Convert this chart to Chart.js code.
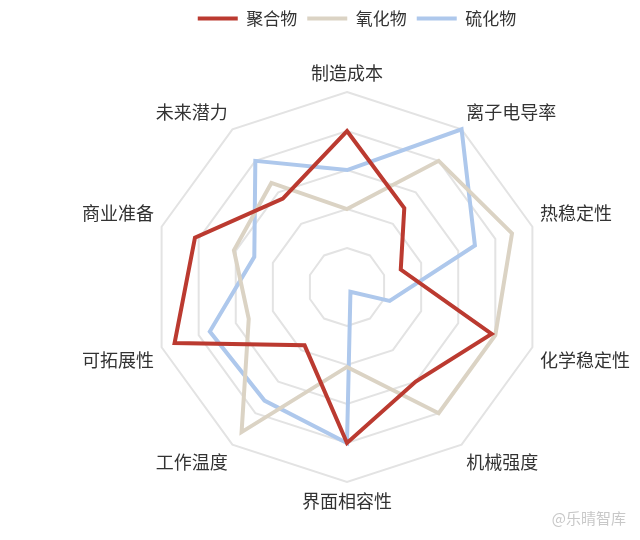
<!DOCTYPE html>
<html>
<head>
<meta charset="utf-8">
<script src="https://cdn.jsdelivr.net/npm/chart.js@4/dist/chart.umd.min.js"></script>
<style>
  html, body { margin: 0; padding: 0; background: #fff; }
  #wrap { position: relative; width: 640px; height: 540px; }
  #mark { position: absolute; right: 14px; bottom: 12px; color: #c8c8c8; font: 15px "Noto Sans CJK SC", sans-serif; }
</style>
</head>
<body>
<div id="wrap">
  <canvas id="chart" width="640" height="540"></canvas>
  <div id="mark">@乐晴智库</div>
</div>
<script>
const labels = ["制造成本", "离子电导率", "热稳定性", "化学稳定性", "机械强度", "界面相容性", "工作温度", "可拓展性", "商业准备", "未来潜力"];
const polymer = [4.0, 2.5, 1.45, 3.9, 3.0, 4.0, 1.85, 4.65, 4.1, 2.8];
const oxide = [2.0, 4.0, 4.45, 4.0, 4.0, 2.05, 4.6, 2.65, 3.05, 3.3];
const sulfide = [3.0, 5.0, 3.45, 1.15, 0.15, 4.0, 3.6, 3.7, 2.5, 4.0];

const font = "'Noto Sans CJK SC', 'Noto Sans', sans-serif";

const line = (label, data, color) => ({
  label: label,
  data: data,
  borderColor: color,
  backgroundColor: color,
  borderWidth: 4,
  fill: false,
  pointRadius: 0,
  pointHoverRadius: 0,
});

// make room between legend and the radar
const legendGap = {
  id: "legendGap",
  beforeInit(chart) {
    const fit = chart.legend.fit;
    chart.legend.fit = function () {
      fit.bind(chart.legend)();
      this.height = 61;
    };
  },
};

new Chart(document.getElementById("chart"), {
  type: "radar",
  data: {
    labels: labels,
    datasets: [
      line("聚合物", polymer, "#bb3a30"),
      line("氧化物", oxide, "#dbd3c4"),
      line("硫化物", sulfide, "#aec8ec"),
    ],
  },
  options: {
    responsive: false,
    animation: false,
    layout: { padding: { left: 74, right: 0, top: 0, bottom: 26 } },
    plugins: {
      legend: {
        position: "top",
        labels: {
          usePointStyle: true,
          pointStyle: "line",
          pointStyleWidth: 40,
          color: "#333",
          font: { family: font, size: 17 },
          padding: 10,
        },
      },
      tooltip: { enabled: false },
    },
    scales: {
      r: {
        min: 0,
        max: 5,
        ticks: { stepSize: 1, display: false },
        angleLines: { display: false },
        grid: { color: "#e3e3e3", lineWidth: 2 },
        pointLabels: {
          color: "#333",
          font: { family: font, size: 18 },
          padding: 8,
        },
      },
    },
  },
  plugins: [legendGap],
});
</script>
</body>
</html>
